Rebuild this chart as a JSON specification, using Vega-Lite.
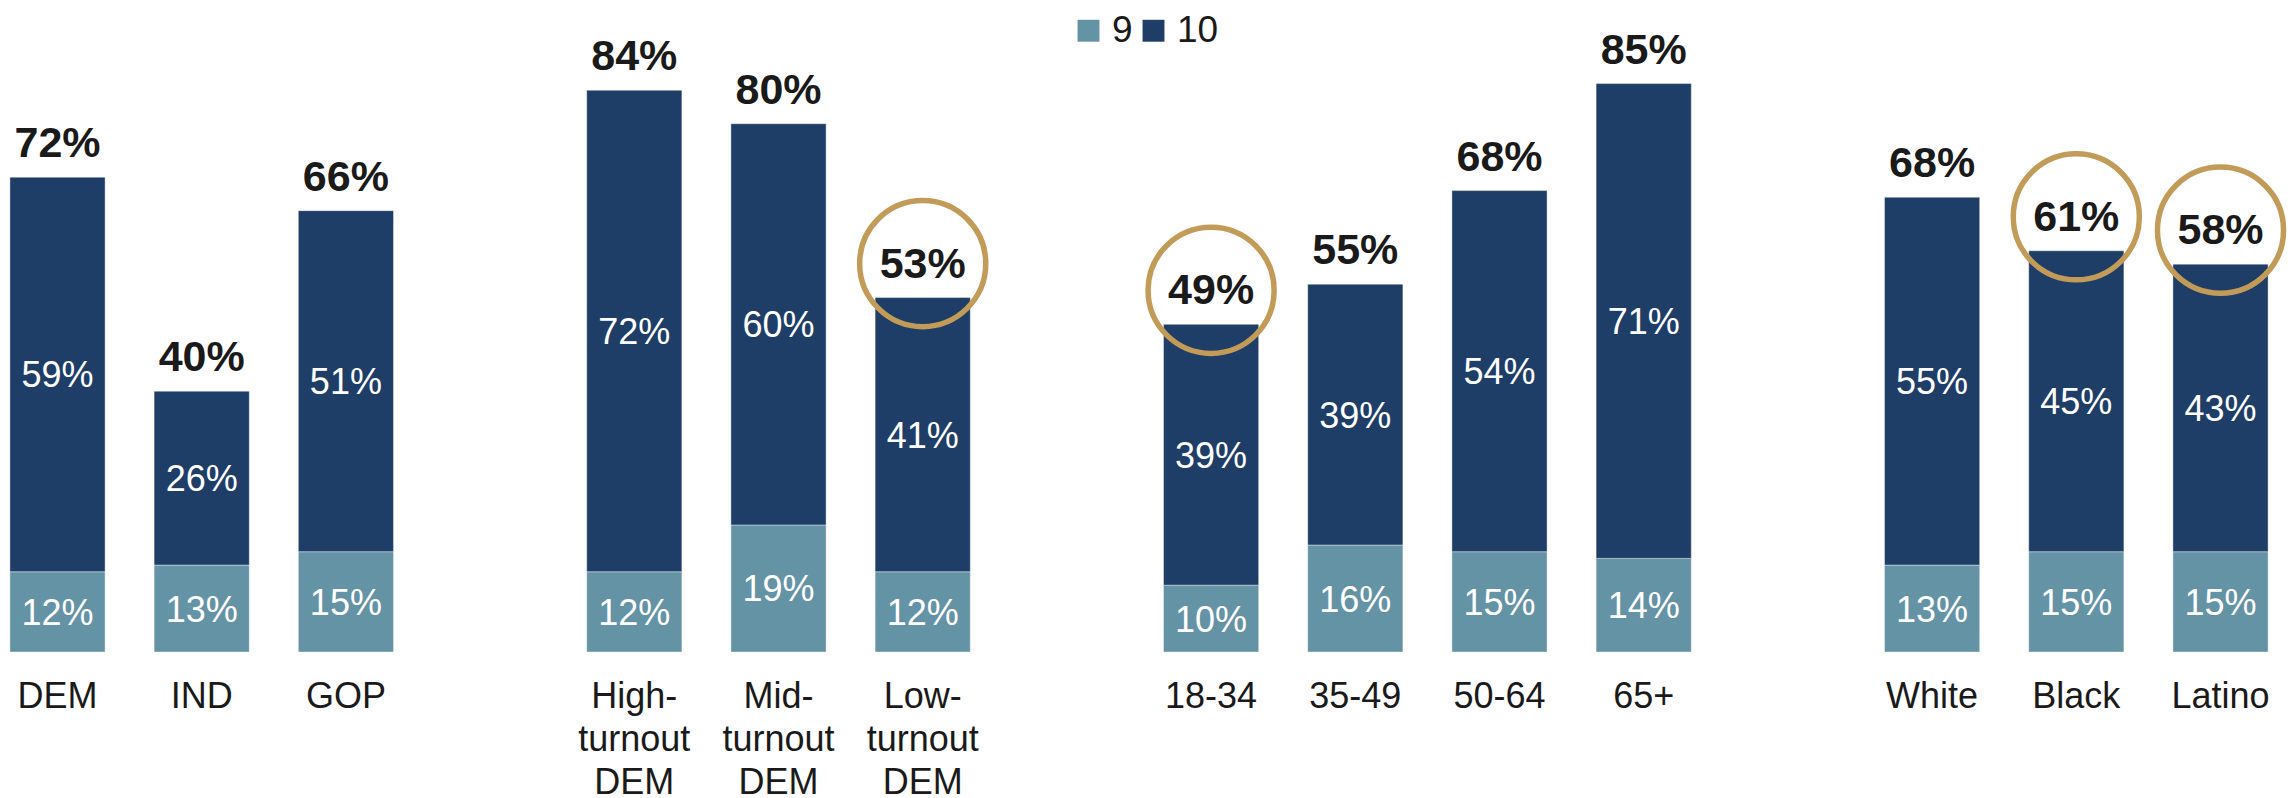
{
  "$schema": "https://vega.github.io/schema/vega-lite/v6.json",
  "width": 2292,
  "height": 652,
  "autosize": {"type": "none"},
  "padding": {"left": 0, "top": 0, "right": 0, "bottom": 146},
  "background": "white",
  "config": {
    "view": {"stroke": null},
    "font": "Liberation Sans"
  },
  "data": {
    "values": [
      {"cat": "DEM", "9": 0.12, "10": 0.59, "total": 0.72, "circled": false},
      {"cat": "IND", "9": 0.13, "10": 0.26, "total": 0.40, "circled": false},
      {"cat": "GOP", "9": 0.15, "10": 0.51, "total": 0.66, "circled": false},
      {"cat": "High-|turnout|DEM", "9": 0.12, "10": 0.72, "total": 0.84, "circled": false},
      {"cat": "Mid-|turnout|DEM", "9": 0.19, "10": 0.60, "total": 0.80, "circled": false},
      {"cat": "Low-|turnout|DEM", "9": 0.12, "10": 0.41, "total": 0.53, "circled": true},
      {"cat": "18-34", "9": 0.10, "10": 0.39, "total": 0.49, "circled": true},
      {"cat": "35-49", "9": 0.16, "10": 0.39, "total": 0.55, "circled": false},
      {"cat": "50-64", "9": 0.15, "10": 0.54, "total": 0.68, "circled": false},
      {"cat": "65+", "9": 0.14, "10": 0.71, "total": 0.85, "circled": false},
      {"cat": "White", "9": 0.13, "10": 0.55, "total": 0.68, "circled": false},
      {"cat": "Black", "9": 0.15, "10": 0.45, "total": 0.61, "circled": true},
      {"cat": "Latino", "9": 0.15, "10": 0.43, "total": 0.58, "circled": true}
    ]
  },
  "transform": [
    {"fold": ["9", "10"], "as": ["series", "value"]},
    {"stack": "value", "groupby": ["cat"], "sort": [{"field": "series", "order": "descending"}], "as": ["y0", "y1"]},
    {"calculate": "(datum.y0 + datum.y1) / 2", "as": "ymid"}
  ],
  "encoding": {
    "x": {
      "field": "cat",
      "type": "nominal",
      "scale": {
        "domain": ["DEM", "IND", "GOP", "gap1", "High-|turnout|DEM", "Mid-|turnout|DEM", "Low-|turnout|DEM", "gap2", "18-34", "35-49", "50-64", "65+", "gap3", "White", "Black", "Latino"],
        "range": [-14.6, 2292.6],
        "paddingInner": 0.34,
        "paddingOuter": 0.17
      },
      "axis": {
        "title": null,
        "domain": false,
        "ticks": false,
        "grid": false,
        "labelAngle": 0,
        "labelFont": "Liberation Sans",
        "labelFontSize": 36,
        "labelColor": "#1a1a1a",
        "labelPadding": 27,
        "labelLineHeight": 43,
        "labelBaseline": "top",
        "labelExpr": "indexof(datum.label, 'gap') == 0 ? '' : split(datum.label, '|')"
      }
    }
  },
  "layer": [
    {
      "mark": {"type": "bar", "stroke": "#ffffff", "strokeWidth": 0.8, "strokeOpacity": 0.5},
      "encoding": {
        "y": {"field": "y0", "type": "quantitative", "scale": {"domain": [0, 0.975], "nice": false, "zero": true}, "axis": null},
        "y2": {"field": "y1"},
        "color": {
          "field": "series",
          "type": "nominal",
          "scale": {"domain": ["9", "10"], "range": ["#6593A6", "#1E3E68"]},
          "legend": {
            "title": null,
            "orient": "none",
            "direction": "horizontal",
            "legendX": 1070,
            "legendY": 12,
            "symbolType": "square",
            "symbolSize": 480,
            "symbolStrokeWidth": 0,
            "labelFont": "Liberation Sans",
            "labelFontSize": 37,
            "labelColor": "#1a1a1a",
            "labelOffset": 5,
            "columnPadding": 2
          }
        }
      }
    },
    {
      "mark": {"type": "text", "color": "white", "fontSize": 36, "font": "Liberation Sans", "baseline": "middle", "align": "center", "dy": 2},
      "encoding": {
        "y": {"field": "ymid", "type": "quantitative"},
        "text": {"field": "value", "type": "quantitative", "format": ".0%"}
      }
    },
    {
      "transform": [{"filter": "datum.series == '10'"}],
      "mark": {"type": "text", "color": "#1a1a1a", "fontSize": 43, "fontWeight": "bold", "font": "Liberation Sans", "baseline": "alphabetic", "align": "center", "dy": -20},
      "encoding": {
        "y": {"field": "y1", "type": "quantitative"},
        "text": {"field": "total", "type": "quantitative", "format": ".0%"}
      }
    },
    {
      "transform": [{"filter": "datum.series == '10' && datum.circled"}],
      "mark": {"type": "point", "shape": "circle", "filled": false, "stroke": "#C19B57", "strokeWidth": 5.5, "size": 15900, "opacity": 1, "yOffset": -34},
      "encoding": {
        "y": {"field": "y1", "type": "quantitative"}
      }
    }
  ]
}
